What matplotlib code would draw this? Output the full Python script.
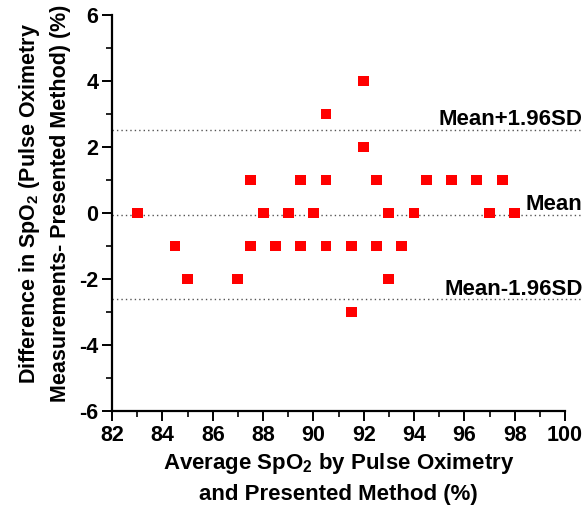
import matplotlib
matplotlib.use("Agg")
import matplotlib.pyplot as plt
from matplotlib.ticker import MultipleLocator

plt.rcParams['font.family'] = ['Liberation Sans', 'DejaVu Sans']
plt.rcParams['font.weight'] = 'bold'
plt.rcParams['axes.unicode_minus'] = False
plt.rcParams['mathtext.fontset'] = 'custom'
plt.rcParams['mathtext.rm'] = 'Liberation Sans:bold'
plt.rcParams['mathtext.bf'] = 'Liberation Sans:bold'
plt.rcParams['mathtext.it'] = 'Liberation Sans:bold'

avg = [83, 84.5, 85, 87, 87.5, 87.5, 88, 88.5, 89, 89.5, 89.5, 90,
       90.5, 90.5, 90.5, 91.5, 91.5, 92, 92, 92.5, 92.5, 93, 93,
       93.5, 94, 94.5, 95.5, 96.5, 97, 97.5, 98]
diff = [0, -1, -2, -2, 1, -1, 0, -1, 0, 1, -1, 0,
        3, 1, -1, -1, -3, 4, 2, 1, -1, 0, -2,
        -1, 0, 1, 1, 1, 0, 1, 0]

mean_line = -0.05
upper_line = 2.5
lower_line = -2.6
line_labels = ['Mean+1.96SD', 'Mean', 'Mean-1.96SD']

fig = plt.figure(figsize=(5.87, 5.16), dpi=100)
ax = fig.add_axes([0.191, 0.2035, 0.7715, 0.7675])

ax.scatter(avg, diff, marker='s', s=62, color='#ff0000', edgecolors='none', zorder=3)

x_end = 100.7
for yv in (upper_line, mean_line, lower_line):
    ax.plot([82, x_end], [yv, yv], linestyle=(0, (1, 2.2)), color='#555555',
            linewidth=1.0, clip_on=False, zorder=2)

ax.text(x_end, upper_line + 0.17, line_labels[0], ha='right', va='baseline', fontsize=16, fontweight='bold')
ax.text(x_end, mean_line + 0.13, line_labels[1], ha='right', va='baseline', fontsize=16, fontweight='bold')
ax.text(x_end, lower_line + 0.1, line_labels[2], ha='right', va='baseline', fontsize=16, fontweight='bold')

ax.set_xlim(82, 100)
ax.set_ylim(-6, 6)
ax.xaxis.set_major_locator(MultipleLocator(2))
ax.xaxis.set_minor_locator(MultipleLocator(1))
ax.yaxis.set_major_locator(MultipleLocator(2))
ax.yaxis.set_minor_locator(MultipleLocator(1))

for s in ('top', 'right'):
    ax.spines[s].set_visible(False)
for s in ('left', 'bottom'):
    ax.spines[s].set_linewidth(1.6)

ax.tick_params(which='major', direction='out', length=7, width=1.4, labelsize=15.5, pad=3)
ax.tick_params(which='minor', direction='out', length=4, width=1.2)

ax.set_xlabel('Average SpO$_2$ by Pulse Oximetry\nand Presented Method (%)',
              fontsize=16, fontweight='bold', linespacing=1.45, labelpad=4)
ax.set_ylabel('Difference in SpO$_2$ (Pulse Oximetry\nMeasurements- Presented Method) (%)',
              fontsize=15.5, fontweight='bold', linespacing=1.5, labelpad=6)
ax.yaxis.label.set_y(0.525)

fig.savefig('out.png', dpi=100)
